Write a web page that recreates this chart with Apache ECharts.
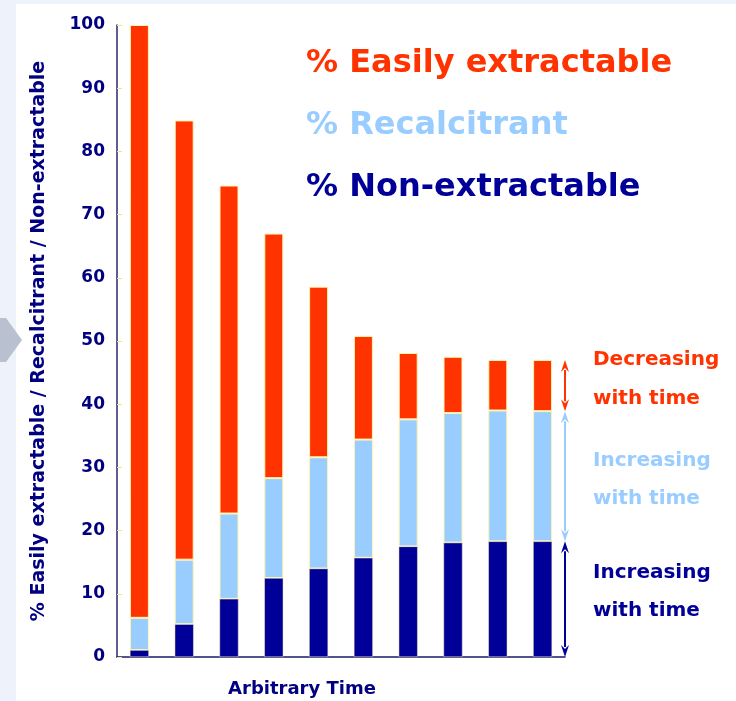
<!DOCTYPE html>
<html>
<head>
<meta charset="utf-8">
<script src="https://cdn.jsdelivr.net/npm/echarts@6/dist/echarts.min.js"></script>
<style>
html,body{margin:0;padding:0;background:#eef2fa;}
#c{width:736px;height:701px;}
</style>
</head>
<body>
<div id="c"></div>
<script>
// ---- data ----
const categories = ['1','2','3','4','5','6','7','8','9','10'];
const nonExtractable = [1.1, 5.2, 9.2, 12.5, 14.0, 15.7, 17.5, 18.1, 18.3, 18.3];
const recalcitrant   = [5.1, 10.2, 13.5, 15.8, 17.6, 18.7, 20.1, 20.5, 20.7, 20.6];
const easily         = [93.8, 69.5, 51.9, 38.7, 27.0, 16.4, 10.5, 8.9, 8.0, 8.1];
const yTicks = [0,10,20,30,40,50,60,70,80,90,100];

const C_EASY = '#ff3300', C_REC = '#99ccff', C_NON = '#000099';
const FONT = 'DejaVu Sans';

const last = categories.length - 1;
const b0 = nonExtractable[last];
const b1 = b0 + recalcitrant[last];
const b2 = b1 + easily[last];
const arrows = [
  [last, 0, b0, C_NON],
  [last, b0, b1, C_REC],
  [last, b1, b2, C_EASY]
];

const chart = echarts.init(document.getElementById('c'));
const barBase = {type:'bar', stack:'total', barWidth:19};

chart.setOption({
  animation:false,
  backgroundColor:'transparent',
  graphic:[
    {type:'rect', z:-10, shape:{x:16,y:4,width:720,height:697}, style:{fill:'#ffffff'}},
    {type:'polygon', z:-9, shape:{points:[[0,318],[6,318],[22,340],[6,362],[0,362]]}, style:{fill:'#b9c0cf'}},
    {type:'text', left:593, top:340, style:{text:'Decreasing\nwith time', fill:C_EASY, font:'bold 20px '+FONT, lineHeight:39}},
    {type:'text', left:593, top:442, style:{text:'Increasing\nwith time', fill:C_REC, font:'bold 20px '+FONT, lineHeight:38}},
    {type:'text', left:593, top:554, style:{text:'Increasing\nwith time', fill:C_NON, font:'bold 20px '+FONT, lineHeight:38}}
  ],
  legend:{
    orient:'vertical', left:296, top:43, icon:'none', itemWidth:0, itemGap:30,
    selectedMode:false,
    textStyle:{fontFamily:FONT, fontSize:32, fontWeight:'bold'},
    data:[
      {name:'% Easily extractable', textStyle:{color:C_EASY}},
      {name:'% Recalcitrant', textStyle:{color:C_REC}},
      {name:'% Non-extractable', textStyle:{color:C_NON}}
    ]
  },
  grid:{left:117, right:171, top:25, bottom:44, containLabel:false, outerBoundsMode:'none'},
  xAxis:{
    type:'category', data:categories,
    axisLine:{lineStyle:{color:'#1a1a6e', width:1.5}},
    axisTick:{show:false}, axisLabel:{show:false},
    name:'Arbitrary Time', nameLocation:'middle', nameGap:23,
    nameTextStyle:{color:'#000080', fontFamily:FONT, fontSize:18, fontWeight:'bold', padding:[0,78,0,0]}
  },
  yAxis:{
    type:'value', min:yTicks[0], max:yTicks[yTicks.length-1], interval:10,
    splitLine:{show:false},
    axisLine:{show:true, lineStyle:{color:'#2a2a6a', width:1.5}},
    axisTick:{show:true, inside:true, length:5, lineStyle:{color:'#f0e48a'}},
    axisLabel:{color:'#000080', fontFamily:FONT, fontSize:17, fontWeight:'bold', margin:12},
    name:'% Easily extractable / Recalcitrant / Non-extractable',
    nameLocation:'middle', nameGap:68, nameRotate:90,
    nameTextStyle:{color:'#000080', fontFamily:FONT, fontSize:19, fontWeight:'bold'}
  },
  series:[
    Object.assign({}, barBase, {name:'% Non-extractable', data:nonExtractable, itemStyle:{color:C_NON, borderColor:'#fff4b0', borderWidth:0.5}}),
    Object.assign({}, barBase, {name:'% Recalcitrant', data:recalcitrant, itemStyle:{color:C_REC, borderColor:'#fff4b0', borderWidth:1}}),
    Object.assign({}, barBase, {name:'% Easily extractable', data:easily, itemStyle:{color:C_EASY, borderColor:'#fff4b0', borderWidth:1}}),
    {
      type:'custom', name:'arrows', data:arrows, silent:true, z:5,
      encode:{x:0, y:[1,2]},
      renderItem:function(params, api){
        const idx = api.value(0);
        const half = api.size([1,0])[0]/2;
        const x = api.coord([idx, 0])[0] + half;
        const yA = api.coord([idx, api.value(1)])[1];
        const yB = api.coord([idx, api.value(2)])[1];
        const col = arrows[params.dataIndex][3];
        const hw = 4, hh = 12;
        return {type:'group', children:[
          {type:'line', shape:{x1:x, y1:yB+hh-2, x2:x, y2:yA-hh+2}, style:{stroke:col, lineWidth:2}},
          {type:'polygon', shape:{points:[[x,yB],[x-hw,yB+hh],[x,yB+hh-4],[x+hw,yB+hh]]}, style:{fill:col}},
          {type:'polygon', shape:{points:[[x,yA],[x-hw,yA-hh],[x,yA-hh+4],[x+hw,yA-hh]]}, style:{fill:col}}
        ]};
      }
    }
  ]
});
</script>
</body>
</html>
